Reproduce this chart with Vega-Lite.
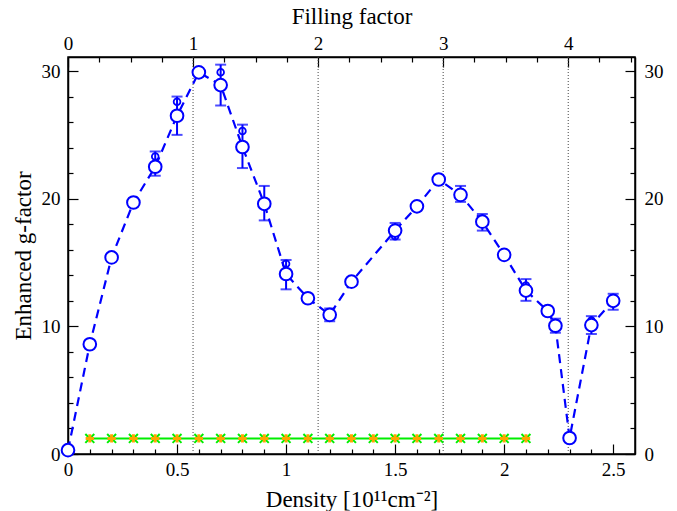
{
  "$schema": "https://vega.github.io/schema/vega-lite/v6.json",
  "width": 567,
  "height": 397,
  "autosize": {"type": "none"},
  "padding": {"left": 68, "top": 57, "right": 42, "bottom": 57},
  "background": "white",
  "config": {
    "view": {"stroke": "black", "strokeWidth": 1.5},
    "axis": {
      "labelFont": "Liberation Serif",
      "labelFontSize": 19,
      "labelColor": "black",
      "labelOverlap": false,
      "labelFlush": false,
      "titleFont": "Liberation Serif",
      "titleFontSize": 23,
      "titleFontWeight": "normal",
      "titleColor": "black",
      "domainColor": "black",
      "domainWidth": 1.5,
      "tickColor": "black",
      "tickWidth": 1.2,
      "grid": false
    }
  },
  "datasets": {
    "main": [
      {"d": 0, "g": 0.3}, {"d": 0.1, "g": 8.6}, {"d": 0.2, "g": 15.4}, {"d": 0.3, "g": 19.7},
      {"d": 0.4, "g": 22.5}, {"d": 0.5, "g": 26.5}, {"d": 0.6, "g": 29.9}, {"d": 0.7, "g": 28.9},
      {"d": 0.8, "g": 24.05}, {"d": 0.9, "g": 19.6}, {"d": 1.0, "g": 14.1}, {"d": 1.1, "g": 12.2},
      {"d": 1.2, "g": 10.9}, {"d": 1.3, "g": 13.5}, {"d": 1.5, "g": 17.5}, {"d": 1.6, "g": 19.4},
      {"d": 1.7, "g": 21.5}, {"d": 1.8, "g": 20.3}, {"d": 1.9, "g": 18.2}, {"d": 2.0, "g": 15.6},
      {"d": 2.1, "g": 12.8}, {"d": 2.2, "g": 11.2}, {"d": 2.235, "g": 10.05}, {"d": 2.3, "g": 1.25},
      {"d": 2.4, "g": 10.1}, {"d": 2.5, "g": 12.0}
    ],
    "bars": [
      {"d": 0.4, "g": 21.8, "hi": 23.7},
      {"d": 0.5, "g": 25.0, "hi": 28.0},
      {"d": 0.7, "g": 27.3, "hi": 30.5},
      {"d": 0.8, "g": 22.4, "hi": 25.8},
      {"d": 0.9, "g": 18.3, "hi": 21.0},
      {"d": 1.0, "g": 12.9, "hi": 15.2},
      {"d": 1.2, "g": 10.4, "hi": 11.4},
      {"d": 1.5, "g": 16.8, "hi": 18.1},
      {"d": 1.7, "g": 21.3, "hi": 21.7},
      {"d": 1.8, "g": 19.75, "hi": 21.0},
      {"d": 1.9, "g": 17.5, "hi": 18.8},
      {"d": 2.1, "g": 12.0, "hi": 13.7},
      {"d": 2.235, "g": 9.5, "hi": 10.6},
      {"d": 2.4, "g": 9.4, "hi": 10.8},
      {"d": 2.5, "g": 11.3, "hi": 12.55}
    ],
    "caps": [
      {"d": 0.4, "g": 21.8}, {"d": 0.4, "g": 23.7},
      {"d": 0.5, "g": 25.0}, {"d": 0.5, "g": 28.0},
      {"d": 0.7, "g": 27.3}, {"d": 0.7, "g": 30.5},
      {"d": 0.8, "g": 22.4}, {"d": 0.8, "g": 25.8},
      {"d": 0.9, "g": 18.3}, {"d": 0.9, "g": 21.0},
      {"d": 1.0, "g": 12.9}, {"d": 1.0, "g": 15.2},
      {"d": 1.2, "g": 10.4}, {"d": 1.2, "g": 11.4},
      {"d": 1.5, "g": 16.8}, {"d": 1.5, "g": 18.1},
      {"d": 1.7, "g": 21.3}, {"d": 1.7, "g": 21.7},
      {"d": 1.8, "g": 19.75}, {"d": 1.8, "g": 21.0},
      {"d": 1.9, "g": 17.5}, {"d": 1.9, "g": 18.8},
      {"d": 2.1, "g": 12.0}, {"d": 2.1, "g": 13.7},
      {"d": 2.235, "g": 9.5}, {"d": 2.235, "g": 10.6},
      {"d": 2.4, "g": 9.4}, {"d": 2.4, "g": 10.8},
      {"d": 2.5, "g": 11.3}, {"d": 2.5, "g": 12.55}
    ],
    "small": [
      {"d": 0.4, "g": 23.3}, {"d": 0.5, "g": 27.6}, {"d": 0.7, "g": 29.9}, {"d": 0.8, "g": 25.3},
      {"d": 0.9, "g": 19.6}, {"d": 1.0, "g": 14.9}, {"d": 1.2, "g": 10.9}, {"d": 1.5, "g": 17.05},
      {"d": 1.7, "g": 21.5}, {"d": 1.8, "g": 20.5}, {"d": 1.9, "g": 18.3}, {"d": 2.1, "g": 13.2},
      {"d": 2.235, "g": 10.05}, {"d": 2.4, "g": 10.45}, {"d": 2.5, "g": 12.0}
    ],
    "ref": [
      {"d": 0.1, "g": 1.22}, {"d": 0.2, "g": 1.22}, {"d": 0.3, "g": 1.22}, {"d": 0.4, "g": 1.22},
      {"d": 0.5, "g": 1.22}, {"d": 0.6, "g": 1.22}, {"d": 0.7, "g": 1.22}, {"d": 0.8, "g": 1.22},
      {"d": 0.9, "g": 1.22}, {"d": 1.0, "g": 1.22}, {"d": 1.1, "g": 1.22}, {"d": 1.2, "g": 1.22},
      {"d": 1.3, "g": 1.22}, {"d": 1.4, "g": 1.22}, {"d": 1.5, "g": 1.22}, {"d": 1.6, "g": 1.22},
      {"d": 1.7, "g": 1.22}, {"d": 1.8, "g": 1.22}, {"d": 1.9, "g": 1.22}, {"d": 2.0, "g": 1.22},
      {"d": 2.1, "g": 1.22}
    ],
    "fill": [{"f": 1}, {"f": 2}, {"f": 3}, {"f": 4}]
  },
  "layer": [
    {
      "data": {"name": "fill"},
      "mark": {"type": "rule", "color": "#444444", "strokeDash": [1, 2], "strokeWidth": 1},
      "encoding": {
        "x": {
          "field": "f", "type": "quantitative",
          "scale": {"domain": [0, 4.534], "nice": false, "zero": false},
          "axis": {
            "orient": "top", "title": "Filling factor", "titlePadding": 1,
            "labelOverlap": false,
            "values": [0, 0.25, 0.5, 0.75, 1, 1.25, 1.5, 1.75, 2, 2.25, 2.5, 2.75, 3, 3.25, 3.5, 3.75, 4, 4.25, 4.5],
            "labelExpr": "datum.value == round(datum.value) ? format(datum.value, 'd') : ''",
            "tickSize": {"condition": {"test": "datum.value == round(datum.value)", "value": -10}, "value": -5},
            "labelPadding": 14
          }
        },
        "y": {
          "datum": 0, "type": "quantitative",
          "scale": {"domain": [0, 31.1], "nice": false, "zero": false},
          "axis": {
            "orient": "right", "title": null,
            "labelOverlap": false,
            "values": [0, 2, 4, 6, 8, 10, 12, 14, 16, 18, 20, 22, 24, 26, 28, 30],
            "labelExpr": "datum.value % 10 == 0 ? format(datum.value, 'd') : ''",
            "tickSize": {"condition": {"test": "datum.value % 10 == 0", "value": -10}, "value": -5},
            "labelPadding": 19
          }
        },
        "y2": {"datum": 31.1}
      }
    },
    {
      "encoding": {
        "x": {
          "field": "d", "type": "quantitative",
          "scale": {"domain": [0, 2.6], "nice": false, "zero": false},
          "axis": {
            "orient": "bottom", "title": "Density [10¹¹cm⁻²]", "titlePadding": 4,
            "labelOverlap": false,
            "values": [0, 0.1, 0.2, 0.3, 0.4, 0.5, 0.6, 0.7, 0.8, 0.9, 1, 1.1, 1.2, 1.3, 1.4, 1.5, 1.6, 1.7, 1.8, 1.9, 2, 2.1, 2.2, 2.3, 2.4, 2.5],
            "labelExpr": "abs(datum.value * 2 - round(datum.value * 2)) < 0.001 ? format(datum.value, '~g') : ''",
            "tickSize": {"condition": {"test": "abs(datum.value * 2 - round(datum.value * 2)) < 0.001", "value": -10}, "value": -5},
            "labelPadding": 16
          }
        },
        "y": {
          "field": "g", "type": "quantitative",
          "scale": {"domain": [0, 31.1], "nice": false, "zero": false},
          "axis": {
            "orient": "left", "title": "Enhanced g-factor", "titlePadding": 6,
            "labelOverlap": false,
            "values": [0, 2, 4, 6, 8, 10, 12, 14, 16, 18, 20, 22, 24, 26, 28, 30],
            "labelExpr": "datum.value % 10 == 0 ? format(datum.value, 'd') : ''",
            "tickSize": {"condition": {"test": "datum.value % 10 == 0", "value": -10}, "value": -5},
            "labelPadding": 18
          }
        }
      },
      "layer": [
        {
          "data": {"name": "bars"},
          "mark": {"type": "rule", "color": "#0000ff", "strokeWidth": 2},
          "encoding": {"y2": {"field": "hi"}}
        },
        {
          "data": {"name": "caps"},
          "mark": {"type": "tick", "orient": "horizontal", "color": "#0000ff", "size": 11, "thickness": 2}
        },
        {
          "data": {"name": "small"},
          "mark": {"type": "point", "shape": "circle", "filled": false, "stroke": "#0000ff", "strokeWidth": 1.8, "size": 45, "opacity": 1}
        },
        {
          "data": {"name": "main"},
          "mark": {"type": "line", "color": "#0000ff", "strokeWidth": 2.2, "strokeDash": [9, 6]}
        },
        {
          "data": {"name": "main"},
          "mark": {"type": "point", "shape": "circle", "fill": "white", "fillOpacity": 1, "stroke": "#0000ff", "strokeWidth": 2, "size": 160, "opacity": 1}
        },
        {
          "data": {"name": "ref"},
          "mark": {"type": "line", "color": "#00ee00", "strokeWidth": 2}
        },
        {
          "data": {"name": "ref"},
          "mark": {"type": "point", "shape": "M-1,-1L1,1M-1,1L1,-1", "filled": false, "stroke": "#00ee00", "strokeWidth": 2, "size": 80, "opacity": 1}
        },
        {
          "data": {"name": "ref"},
          "mark": {"type": "point", "shape": "M-1,0L1,0M0,-1L0,1", "filled": false, "stroke": "#ffa500", "strokeWidth": 3, "size": 70, "opacity": 1}
        }
      ]
    }
  ],
  "resolve": {"scale": {"x": "independent", "y": "independent"}}
}
